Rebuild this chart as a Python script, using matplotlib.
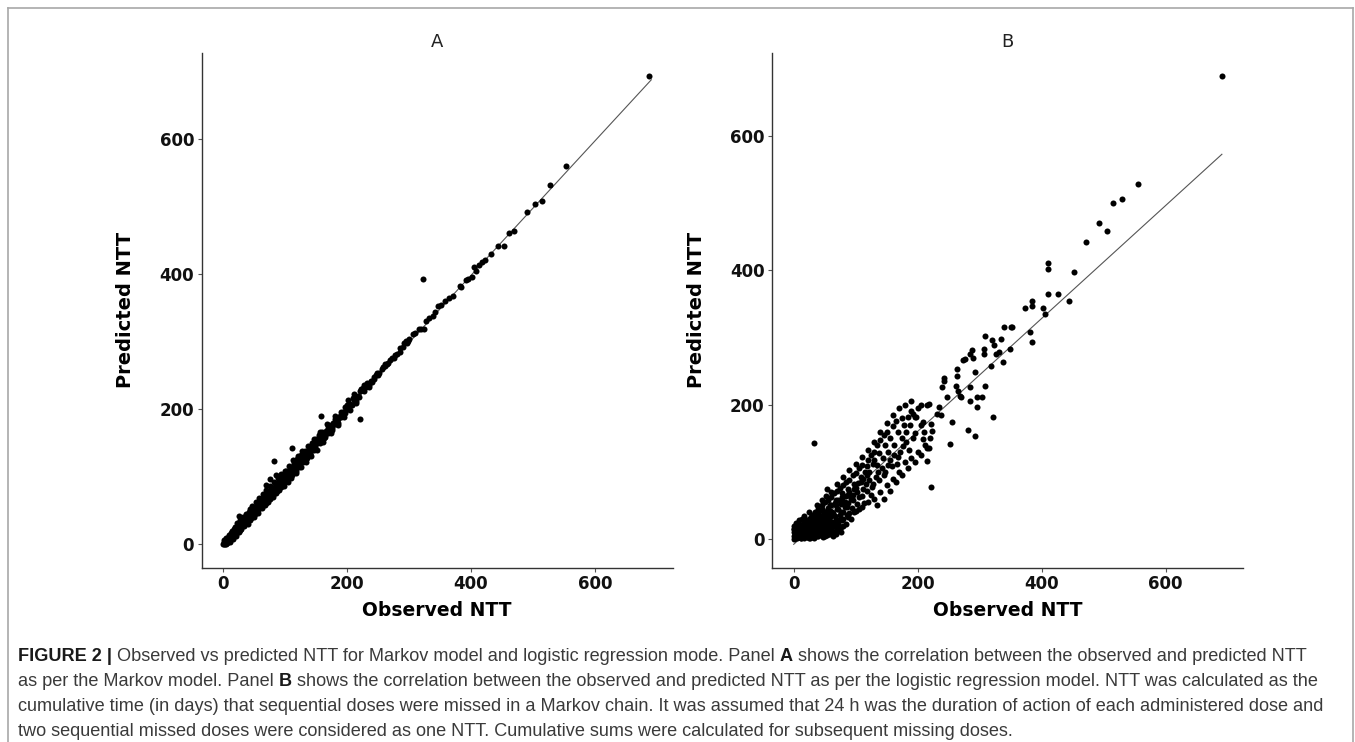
import matplotlib
matplotlib.use("Agg")
import matplotlib.pyplot as plt
from matplotlib.lines import Line2D
from matplotlib.transforms import IdentityTransform
import numpy as np

# values (observed NTT, predicted NTT)
a_points = [
    (688, 692), (554, 560), (528, 531), (514, 507), (503, 504), (491, 491), (470, 463),
    (453, 441), (444, 441), (423, 421), (413, 413), (408, 404), (405, 410), (401, 395),
    (384, 380), (382, 382), (371, 367), (352, 354), (347, 352), (338, 338), (333, 334),
    (324, 318), (320, 318), (307, 311), (295, 301), (292, 297), (285, 285), (276, 275),
    (261, 267), (249, 253), (240, 240), (228, 235), (221, 227), (212, 223), (202, 213),
    (196, 203), (191, 190), (184, 179), (175, 172), (169, 165), (163, 157), (157, 150),
    (148, 143), (140, 135), (130, 128), (123, 118), (112, 109), (103, 101), (97, 94),
    (322, 393), (221, 186), (158, 190), (111, 142), (82, 123), (86, 102), (75, 96),
    (69, 88), (25, 42),
    (0, 0), (1, 3), (2, 1), (3, 5), (4, 2), (5, 7), (6, 4), (7, 8), (8, 6), (9, 10),
    (10, 8), (11, 13), (12, 10), (13, 15), (14, 12), (15, 17), (16, 14), (17, 20),
    (18, 16), (19, 22), (20, 18), (21, 24), (22, 20), (23, 26), (24, 22), (25, 28),
    (26, 24), (27, 30), (28, 26), (29, 32), (30, 28), (31, 34), (32, 30), (33, 36),
    (34, 32), (35, 38), (36, 34), (37, 40), (38, 36), (39, 42), (40, 38), (42, 44),
    (44, 42), (45, 48), (46, 44), (48, 50), (50, 48), (51, 54), (52, 50), (54, 56),
    (55, 53), (56, 60), (58, 57), (60, 62), (61, 58), (62, 66), (64, 62), (65, 68),
    (66, 64), (68, 70), (70, 68), (71, 73), (72, 70), (74, 76), (76, 74), (77, 79),
    (78, 76), (80, 82), (82, 80), (83, 85), (84, 82), (86, 88), (88, 86), (89, 91),
    (90, 88), (92, 94), (94, 92), (95, 97), (96, 94), (98, 100), (100, 98), (102, 104),
    (104, 102), (106, 108), (108, 106), (110, 112), (112, 110), (114, 117), (116, 114),
    (118, 120), (120, 118), (122, 124), (124, 122), (126, 129), (128, 126), (130, 132),
    (132, 130), (134, 137), (136, 134), (138, 140), (140, 138), (142, 145), (144, 142),
    (146, 148), (148, 146), (150, 152), (152, 150), (154, 157), (156, 154), (158, 160),
    (160, 158), (162, 164), (164, 162), (166, 168), (168, 166), (170, 172), (172, 170),
    (174, 177), (176, 175), (178, 180), (180, 178), (182, 184), (185, 186), (188, 190),
    (190, 188), (193, 196), (196, 194), (199, 201), (202, 200), (205, 208), (208, 206),
    (211, 214), (214, 212), (217, 220), (220, 218), (224, 228), (227, 226), (231, 233),
    (235, 236), (238, 241), (243, 244), (247, 250), (252, 254), (256, 259), (262, 264),
    (266, 268), (270, 272), (280, 281), (290, 292), (298, 300), (300, 303), (310, 313),
    (316, 318), (328, 330), (342, 344), (358, 360), (365, 364), (392, 391), (396, 393),
    (418, 418), (432, 430), (462, 460),
    (3, 0), (6, 9), (9, 5), (12, 16), (15, 11), (18, 23), (21, 15), (24, 29), (27, 21),
    (30, 35), (33, 27), (36, 41), (39, 33), (42, 48), (45, 39), (48, 54), (51, 45),
    (54, 60), (57, 50), (60, 66), (63, 56), (66, 72), (69, 61), (72, 78), (75, 67),
    (78, 84), (81, 73), (84, 90), (87, 79), (90, 96), (93, 85), (96, 102), (99, 91),
    (102, 108), (105, 97), (108, 114), (111, 103), (114, 120), (117, 109), (120, 126),
    (123, 114), (126, 132), (129, 121), (132, 138), (135, 127), (138, 144), (141, 133),
    (144, 150), (147, 139), (150, 156), (155, 161), (160, 166), (165, 159), (170, 176),
    (175, 169), (180, 186), (185, 179), (190, 196), (195, 189), (200, 206), (205, 199),
    (210, 216), (215, 209), (222, 230), (226, 231), (232, 238), (236, 232), (244, 248),
    (250, 250), (258, 262), (264, 266), (272, 276), (278, 280), (286, 290), (296, 298),
    (2, 6), (4, 0), (5, 10), (7, 2), (10, 14), (11, 4), (14, 19), (16, 8), (19, 26),
    (20, 12), (23, 31), (25, 18), (28, 36), (29, 22), (32, 40), (34, 28), (37, 45),
    (40, 30), (43, 52), (44, 36), (47, 56), (50, 40), (53, 62), (56, 47), (58, 68),
    (62, 54), (64, 74), (67, 58), (70, 80), (73, 62), (76, 86), (80, 70), (82, 92),
    (85, 76), (88, 98), (91, 80), (94, 104), (98, 86), (100, 108), (104, 92), (107, 116),
    (110, 98), (113, 124), (118, 106), (121, 131), (125, 114), (128, 138), (133, 122),
    (137, 145), (142, 130), (147, 156), (152, 140), (157, 166), (162, 152), (168, 178),
    (174, 164), (180, 190), (186, 176),
]

b_points = [
    (691, 689), (556, 528), (529, 506), (516, 500), (505, 458), (493, 470), (471, 442),
    (453, 397), (444, 354), (426, 365), (411, 411), (410, 402), (410, 365), (406, 335),
    (402, 344), (384, 354), (384, 347), (384, 294), (381, 308), (373, 344), (353, 315),
    (351, 316), (349, 283), (340, 316), (337, 263), (335, 298), (332, 278), (326, 275),
    (324, 289), (322, 181), (320, 296), (318, 258), (309, 303), (308, 228), (307, 283),
    (307, 275), (304, 211), (296, 212), (296, 196), (293, 249), (293, 154), (289, 269),
    (287, 282), (285, 205), (284, 276), (284, 226), (281, 162), (277, 268), (274, 266),
    (270, 211), (268, 213), (265, 221), (264, 253), (264, 242), (262, 228), (255, 174),
    (252, 142), (248, 211), (243, 239), (243, 236), (239, 226), (238, 184), (235, 196),
    (231, 186), (223, 161), (222, 171), (222, 77), (218, 201), (218, 136), (215, 199),
    (215, 116), (208, 174), (208, 149), (205, 169), (195, 181), (193, 186), (32, 143),
    (53, 74),
    (205, 200), (200, 195), (190, 190), (185, 182), (175, 180), (178, 170), (165, 175),
    (160, 168), (168, 160), (150, 160), (155, 150), (145, 155), (140, 148), (148, 140),
    (135, 140), (130, 130), (138, 128), (125, 125), (120, 118), (128, 112), (118, 108),
    (110, 110), (115, 100), (105, 105), (100, 98), (108, 92), (95, 95), (90, 88),
    (98, 82), (85, 85), (80, 80), (88, 75), (75, 76), (70, 72), (78, 68), (65, 68),
    (60, 62), (68, 58), (55, 58), (50, 55), (58, 50), (45, 50), (40, 45), (48, 42),
    (35, 40), (30, 36), (38, 32), (25, 30), (20, 26), (28, 22), (15, 22), (10, 18),
    (18, 15), (5, 14), (8, 10), (3, 8), (12, 6), (0, 5), (2, 2), (6, 3), (14, 4),
    (22, 8), (26, 14), (32, 18), (36, 24), (42, 28), (46, 22), (52, 30), (56, 36),
    (62, 40), (66, 34), (72, 45), (76, 52), (82, 55), (86, 48), (92, 60), (96, 66),
    (102, 70), (106, 62), (112, 75), (116, 82), (122, 88), (126, 78), (132, 92),
    (136, 100), (142, 105), (146, 95), (152, 110), (156, 118), (162, 125), (166, 112),
    (172, 130), (176, 138), (182, 145), (186, 132), (192, 150), (196, 158), (210, 160),
    (212, 140), (200, 130), (190, 120), (180, 115), (170, 100), (160, 90), (150, 80),
    (140, 70), (130, 60), (120, 55), (110, 48), (100, 42), (90, 38), (80, 30), (70, 25),
    (60, 20), (50, 15), (40, 12), (30, 10), (20, 8), (145, 60), (135, 50), (155, 72),
    (165, 85), (175, 95), (185, 105), (195, 115), (205, 125), (215, 135), (220, 150),
    (130, 118), (118, 95), (108, 85), (98, 75), (88, 65), (78, 58), (68, 50), (58, 42),
    (48, 35), (38, 28), (28, 20), (18, 12), (8, 6), (60, 70), (70, 82), (80, 92),
    (90, 102), (100, 112), (110, 122), (120, 132), (130, 145), (140, 160), (150, 172),
    (160, 185), (170, 195), (180, 200), (190, 205),
    (0, 0), (2, 6), (4, 12), (6, 2), (8, 16), (10, 4), (12, 10), (14, 20), (16, 1),
    (18, 8), (20, 14), (22, 3), (24, 18), (26, 6), (28, 12), (30, 24), (32, 2),
    (34, 15), (36, 8), (38, 20), (40, 5), (42, 14), (44, 26), (46, 9), (48, 18),
    (50, 4), (52, 22), (54, 12), (56, 28), (58, 7), (60, 16), (62, 25), (64, 10),
    (66, 20), (68, 30), (70, 14), (72, 22), (74, 35), (76, 18), (78, 28), (80, 40),
    (84, 22), (88, 32), (3, 18), (7, 22), (11, 1), (15, 12), (19, 24), (23, 10),
    (27, 1), (31, 16), (35, 28), (39, 10), (43, 20), (47, 3), (51, 12), (55, 20),
    (59, 32), (63, 4), (0, 10), (1, 15), (5, 20), (9, 8), (13, 14), (17, 4), (21, 20),
    (25, 2), (29, 8), (33, 30), (37, 4), (41, 24), (45, 16), (49, 28), (53, 8),
    (57, 14), (61, 36), (65, 24), (69, 8), (73, 16), (77, 10),
    (0, 15), (0, 20), (2, 12), (4, 18), (6, 8), (8, 22), (10, 12), (12, 2), (14, 8),
    (16, 18), (18, 28), (20, 4), (22, 16), (24, 26), (26, 10), (28, 32), (30, 4),
    (32, 22), (34, 36), (36, 14), (38, 26), (40, 40), (42, 8), (44, 34), (46, 44),
    (48, 12), (50, 28), (52, 40), (54, 6), (56, 46), (58, 24), (60, 50), (62, 12),
    (64, 38), (66, 54), (68, 18), (70, 44), (72, 58), (74, 28), (76, 40), (78, 62),
    (80, 20), (82, 48), (84, 64), (86, 36), (88, 54), (90, 70), (92, 30), (94, 46),
    (96, 58), (98, 40), (100, 76), (102, 52), (104, 84), (106, 44), (110, 64),
    (112, 90), (114, 54), (118, 72), (122, 100), (124, 66), (128, 82), (134, 110),
    (138, 88), (144, 120), (148, 100), (152, 130), (158, 108), (162, 140), (168, 122),
    (174, 150), (182, 160), (188, 170), (198, 182), (9, 28), (13, 30), (17, 34),
    (3, 24), (25, 40), (45, 58), (52, 64), (38, 50),
]

# fitted lines, end points
line_x = [0, 691]
a_line_y = [0, 687]
b_line_y = [-8, 573]

panel_titles = ["A", "B"]
ticks = [0, 200, 400, 600]

caption_lines = [
    [("FIGURE 2 |", True),
     ("Observed vs predicted NTT for Markov model and logistic regression mode. Panel", False),
     ("A", True),
     ("shows the correlation between the observed and predicted NTT", False)],
    [("as per the Markov model. Panel", False), ("B", True),
     ("shows the correlation between the observed and predicted NTT as per the logistic "
      "regression model. NTT was calculated as the", False)],
    [("cumulative time (in days) that sequential doses were missed in a Markov chain. It was "
      "assumed that 24 h was the duration of action of each administered dose and", False)],
    [("two sequential missed doses were considered as one NTT. Cumulative sums were "
      "calculated for subsequent missing doses.", False)],
]

W, H = 1355, 742
fig = plt.figure(figsize=(W / 100, H / 100), dpi=100)

axA = fig.add_axes([201.7 / W, 1 - 567.7 / H, 471 / W, 514.7 / H])
axB = fig.add_axes([772.3 / W, 1 - 567.7 / H, 471 / W, 514.7 / H])

for ax, pts, ly, title in zip([axA, axB], [a_points, b_points], [a_line_y, b_line_y], panel_titles):
    pts = np.array(pts, dtype=float)
    ax.scatter(pts[:, 0], pts[:, 1], s=19, c="black", linewidths=0, zorder=3)
    ax.plot(line_x, ly, color="#555555", lw=0.8, zorder=2)
    ax.margins(0.05)
    ax.set_xticks(ticks)
    ax.set_yticks(ticks)
    for s in ["top", "right"]:
        ax.spines[s].set_visible(False)
    for s in ["left", "bottom"]:
        ax.spines[s].set_color("#333333")
        ax.spines[s].set_linewidth(1.0)
    ax.tick_params(length=3, width=0.8, color="#555555", pad=2.5)
    for lab in ax.get_xticklabels() + ax.get_yticklabels():
        lab.set_fontfamily("DejaVu Sans")
        lab.set_fontweight("bold")
        lab.set_fontsize(12)
        lab.set_color("#111111")
    ax.set_title(title, fontsize=13, family="DejaVu Sans", pad=4, color="#222222")
    ax.set_xlabel("Observed NTT", fontsize=13.5, fontweight="bold", family="DejaVu Sans")
    ax.set_ylabel("Predicted NTT", fontsize=14, fontweight="bold",
                  family=["Liberation Sans Narrow", "DejaVu Sans"])
    ax.xaxis.set_label_coords(0.5, -0.065)
    ax.yaxis.set_label_coords(-0.141, 0.5)

# frame around the figure
border = "#a8a8a8"
fig.add_artist(Line2D([8, 8], [H - 8, 0], transform=IdentityTransform(), color=border, lw=1.2))
fig.add_artist(Line2D([8, 1353], [H - 8, H - 8], transform=IdentityTransform(), color=border, lw=1.2))
fig.add_artist(Line2D([1353, 1353], [H - 8, 0], transform=IdentityTransform(), color=border, lw=1.2))

# caption, set piece by piece so bold words sit inline
renderer = fig.canvas.get_renderer()
cap_family = ["Liberation Sans", "DejaVu Sans"]


def text_width(s, size, bold):
    t = fig.text(0, 0, s, fontsize=size, family=cap_family,
                 fontweight="bold" if bold else "normal", transform=IdentityTransform())
    w = t.get_window_extent(renderer).width
    t.remove()
    return w


probe = caption_lines[2][0][0]
cap_size = 12 * (1328 - 18) / text_width(probe, 12, False)
space = text_width("x x", cap_size, False) - text_width("xx", cap_size, False)

baselines = [661, 686, 711, 736]
for segs, base in zip(caption_lines, baselines):
    x = 18
    for s, bold in segs:
        t = fig.text(x, H - base, s, fontsize=cap_size, family=cap_family,
                     fontweight="bold" if bold else "normal",
                     color="#1a1a1a" if bold else "#3a3a3a",
                     va="baseline", ha="left", transform=IdentityTransform())
        x += t.get_window_extent(renderer).width + space

fig.savefig("out.png", dpi=100)
